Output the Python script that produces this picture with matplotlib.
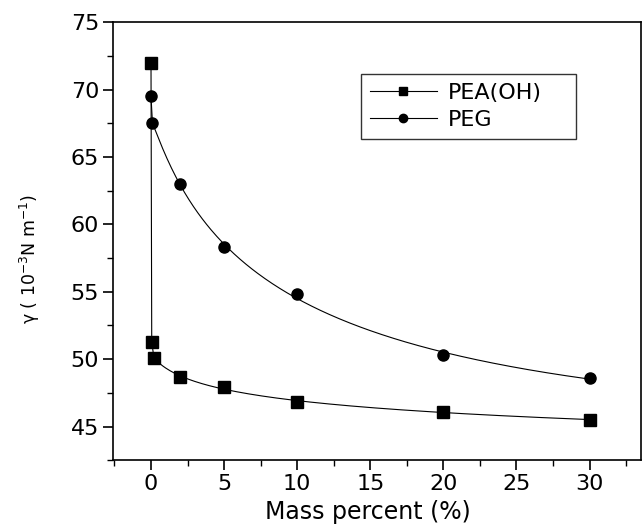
import numpy as np
import matplotlib
matplotlib.use('Agg')
import matplotlib.pyplot as plt
from matplotlib.ticker import MultipleLocator

plt.rcParams['font.family'] = ['DejaVu Sans']
plt.rcParams['mathtext.fontset'] = 'dejavusans'

# mass percent (%) and surface tension (10^-3 N/m)
pea_x = [0.0, 0.05, 0.2, 2, 5, 10, 20, 30]
pea_y = [72.0, 51.3, 50.1, 48.7, 47.9, 46.8, 46.1, 45.5]
peg_x = [0.0, 0.1, 2, 5, 10, 20, 30]
peg_y = [69.5, 67.5, 63.0, 58.3, 54.8, 50.3, 48.6]
labels = ['PEA(OH)', 'PEG']


def fit_curve(x, y, deg=3, n=300):
    # smooth fitted line in log(x+1), like the original's fitted curves
    x = np.asarray(x, float)
    y = np.asarray(y, float)
    p = np.polyfit(np.log1p(x), y, deg)
    xs = np.linspace(x[0], x[-1], n)
    return xs, np.polyval(p, np.log1p(xs))


fig = plt.figure(figsize=(6.42, 5.29), dpi=100)
ax = fig.add_axes([0.176, 0.130, 0.822, 0.828])

# first points joined straight (near-vertical drop), rest a smooth fit
for xx, yy, nstart, mk, lab in [(pea_x, pea_y, 2, 's', labels[0]),
                                (peg_x, peg_y, 1, 'o', labels[1])]:
    sx, sy = fit_curve(xx[nstart:], yy[nstart:])
    lx = np.concatenate([xx[:nstart], sx])
    ly = np.concatenate([yy[:nstart], sy])
    ax.plot(lx, ly, color='black', lw=0.8)
    ax.plot(xx, yy, linestyle='none', marker=mk, color='black', ms=8)
    ax.plot([], [], color='black', lw=0.8, marker=mk, ms=6, label=lab)

ax.set_xlim(-2.6, 33.5)
ax.set_ylim(42.5, 75)
ax.xaxis.set_major_locator(MultipleLocator(5))
ax.xaxis.set_minor_locator(MultipleLocator(2.5))
ax.yaxis.set_major_locator(MultipleLocator(5))
ax.yaxis.set_minor_locator(MultipleLocator(2.5))
ax.tick_params(which='major', direction='out', length=7, width=1.2, labelsize=16, pad=3)
ax.tick_params(which='minor', direction='out', length=4, width=1.0)
for s in ax.spines.values():
    s.set_linewidth(1.2)

ax.set_xlabel('Mass percent (%)', fontsize=17)
ax.xaxis.set_label_coords(0.483, -0.09)
ax.set_ylabel(r'γ ( 10$^{\mathregular{-3}}$N m$^{\mathregular{-1}}$)', fontsize=12.5)
ax.yaxis.set_label_coords(-0.134, 0.46)

leg = ax.legend(loc='upper left', bbox_to_anchor=(0.47, 0.881, 0.407, 0), mode='expand',
                borderaxespad=0, fontsize=16, frameon=True, fancybox=False,
                edgecolor='black', handlelength=3.0, borderpad=0.4,
                labelspacing=0.3, handletextpad=0.5)
leg.get_frame().set_linewidth(1.0)

fig.savefig('out.png', dpi=100)
